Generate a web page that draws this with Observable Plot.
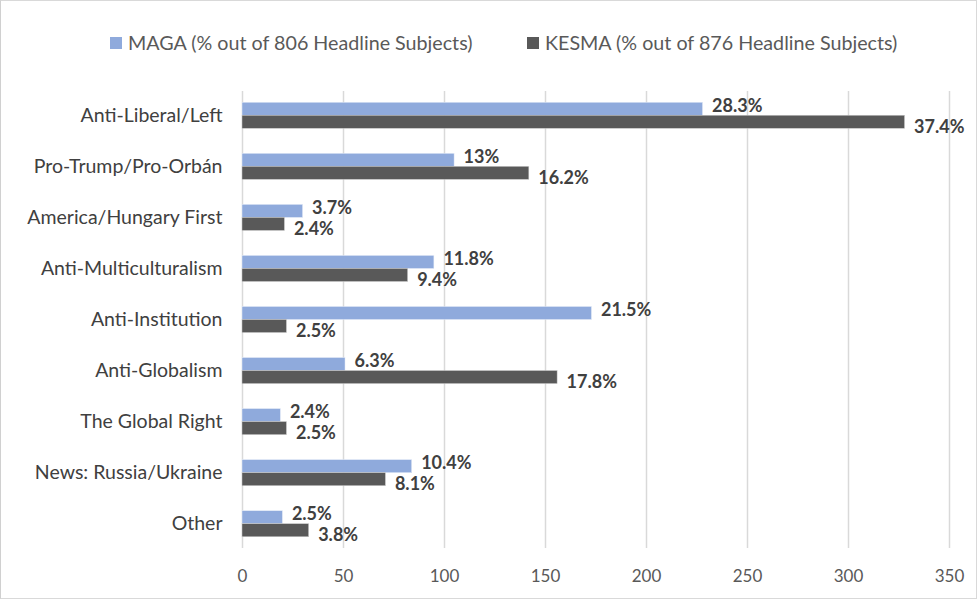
<!DOCTYPE html>
<html>
<head>
<meta charset="utf-8">
<script src="https://cdn.jsdelivr.net/npm/d3@7"></script>
<script src="https://cdn.jsdelivr.net/npm/@observablehq/plot@0.6"></script>
<style>
  html, body { margin: 0; padding: 0; background: #fff; }
  #wrap { width: 977px; height: 599px; box-sizing: border-box; border: 1px solid #d9d9d9; border-left: 1px solid #d0d0d0; position: relative; overflow: hidden; font-family: Lato, "Liberation Sans", sans-serif; }
  #legend { height: 70px; position: relative; font-size: 19.7px; color: #595959; }
  .item { position: absolute; top: 30px; display: flex; align-items: center; white-space: nowrap; }
  .sw { width: 12px; height: 12px; margin-right: 6px; display: inline-block; }
</style>
</head>
<body>
<div id="wrap"><div id="legend"></div><div id="chart"></div></div>
<script>
const categories = ["Anti-Liberal/Left", "Pro-Trump/Pro-Orbán", "America/Hungary First", "Anti-Multiculturalism", "Anti-Institution", "Anti-Globalism", "The Global Right", "News: Russia/Ukraine", "Other"];
const seriesNames = ["MAGA (% out of 806 Headline Subjects)", "KESMA (% out of 876 Headline Subjects)"];
const magaCounts = [228, 105, 30, 95, 173, 51, 19, 84, 20];
const kesmaCounts = [328, 142, 21, 82, 22, 156, 22, 71, 33];
const magaLabels = ["28.3%", "13%", "3.7%", "11.8%", "21.5%", "6.3%", "2.4%", "10.4%", "2.5%"];
const kesmaLabels = ["37.4%", "16.2%", "2.4%", "9.4%", "2.5%", "17.8%", "2.5%", "8.1%", "3.8%"];
const xTicks = [0, 50, 100, 150, 200, 250, 300, 350];
const colors = ["#8faadc", "#595959"];

const maga = categories.map((c, i) => ({category: c, value: magaCounts[i], label: magaLabels[i]}));
const kesma = categories.map((c, i) => ({category: c, value: kesmaCounts[i], label: kesmaLabels[i]}));

const legend = document.getElementById("legend");
const legendLeft = [109, 526];
seriesNames.forEach((n, i) => {
  const it = document.createElement("div");
  it.className = "item";
  it.style.left = legendLeft[i] + "px";
  it.innerHTML = `<span class="sw" style="background:${colors[i]}"></span><span>${n}</span>`;
  legend.appendChild(it);
});

const chart = Plot.plot({
  width: 975,
  height: 527,
  marginTop: 20,
  marginBottom: 50,
  marginLeft: 241,
  marginRight: 27,
  style: {fontFamily: "Lato, 'Liberation Sans', sans-serif", color: "#595959", background: "#fff"},
  x: {domain: [0, 350], ticks: xTicks, grid: false, label: null},
  y: {domain: categories, paddingInner: 0.489, paddingOuter: 0.22, round: false, label: null},
  marks: [
    Plot.ruleX(xTicks, {stroke: "#d9d9d9", strokeWidth: 1.5}),
    Plot.axisX({ticks: xTicks, tickSize: 0, tickPadding: 21, fontSize: 17, fill: "#595959", label: null}),
    Plot.axisY({tickSize: 0, tickPadding: 20, fontSize: 19.5, fill: "#404040", label: null}),
    Plot.barX(maga, {x: "value", y: "category", fill: colors[0], insetBottom: 13, stroke: "#e8eef8", strokeWidth: 0.5}),
    Plot.barX(kesma, {x: "value", y: "category", fill: colors[1], insetTop: 13, stroke: "#cfcfcf", strokeWidth: 0.5}),
    Plot.text(maga, {x: "value", y: "category", text: "label", dx: 9, dy: -10, textAnchor: "start", fontWeight: "bold", fontSize: 18, fill: "#404040"}),
    Plot.text(kesma, {x: "value", y: "category", text: "label", dx: 9, dy: 11, textAnchor: "start", fontWeight: "bold", fontSize: 18, fill: "#404040"})
  ]
});
document.getElementById("chart").appendChild(chart);
</script>
</body>
</html>
